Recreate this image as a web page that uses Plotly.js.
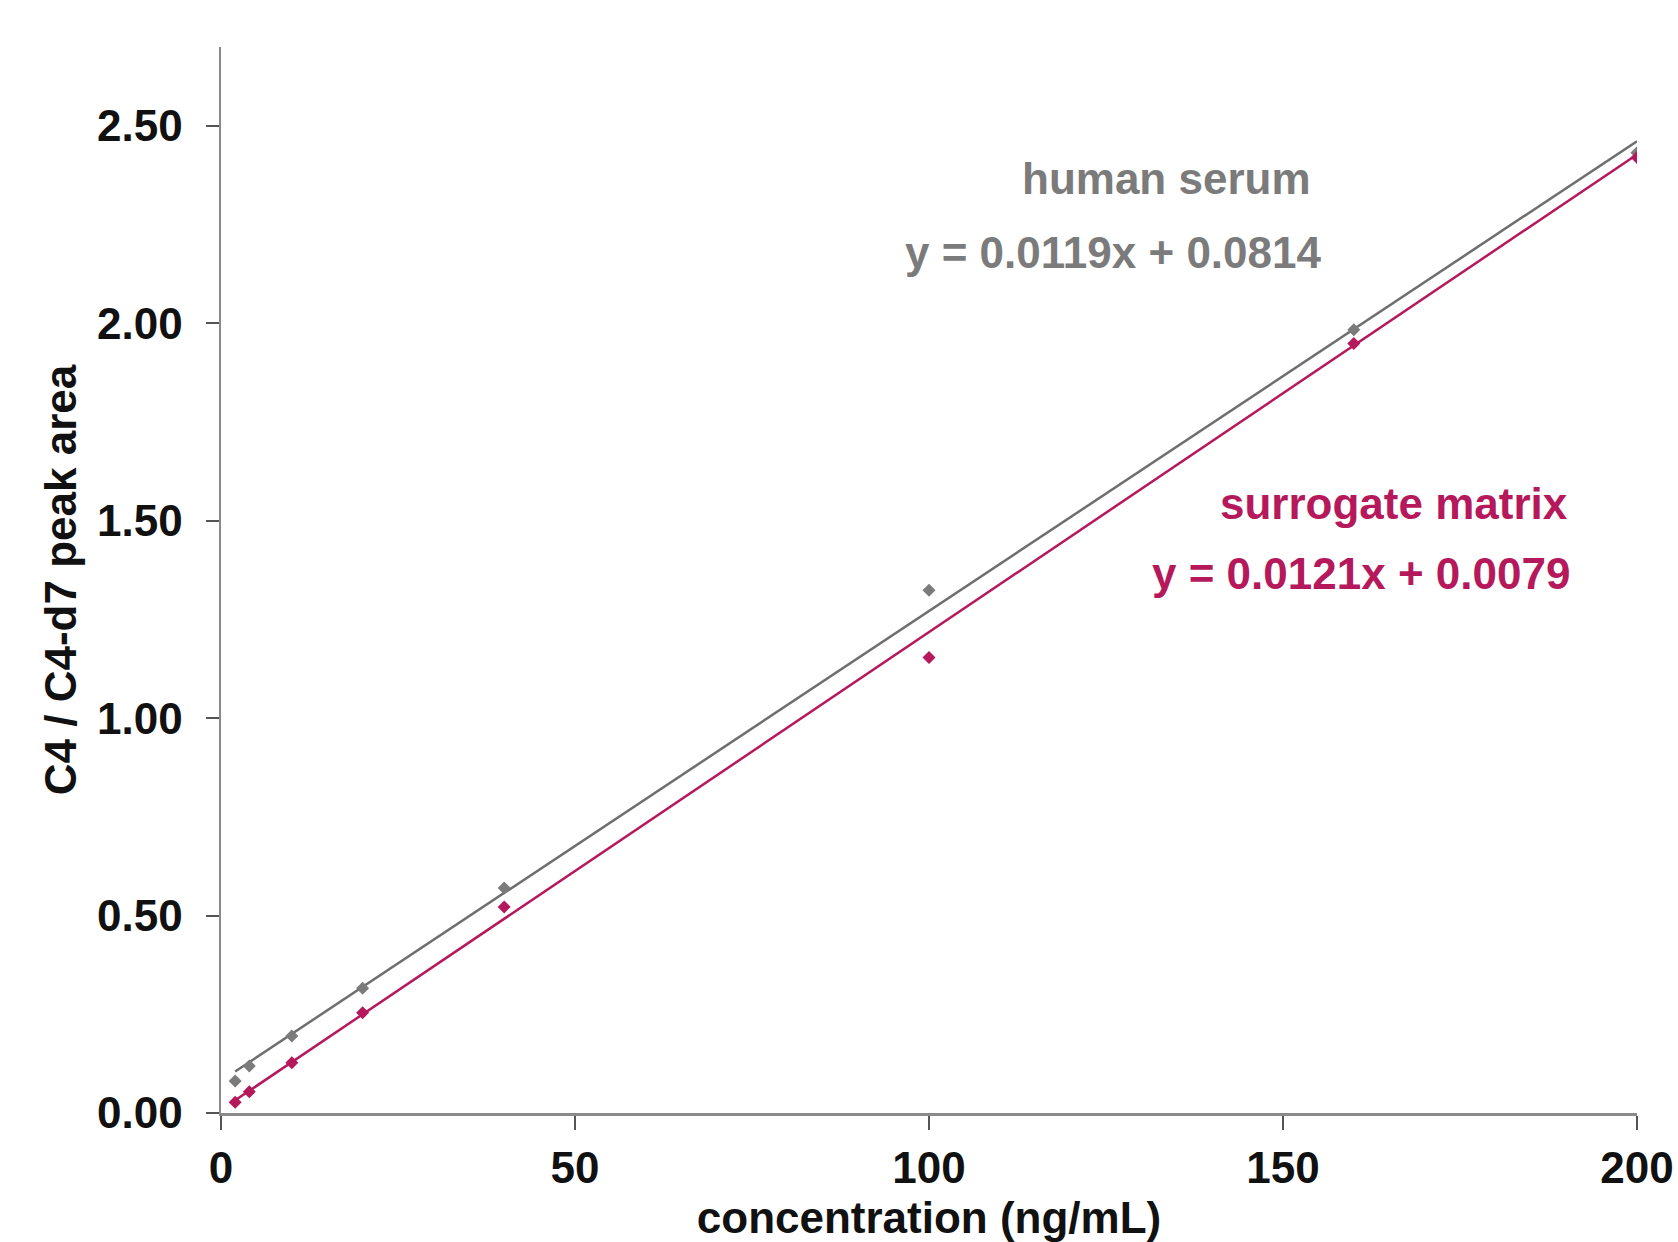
<!DOCTYPE html>
<html>
<head>
<meta charset="utf-8">
<script src="https://cdn.plot.ly/plotly-3.0.1.min.js"></script>
<style>html,body{margin:0;padding:0;background:#fff;}</style>
</head>
<body>
<div id="chart" style="width:1678px;height:1242px;"></div>
<script>
// concentrations (ng/mL)
const concentration = [2, 4, 10, 20, 40, 100, 160, 200];
// C4 / C4-d7 peak area ratios
const humanSerum = [0.081, 0.119, 0.195, 0.316, 0.570, 1.324, 1.984, 2.432];
const surrogateMatrix = [0.027, 0.054, 0.127, 0.254, 0.522, 1.154, 1.949, 2.420];
// regression results
const seriesNames = ["human serum", "surrogate matrix"];
const slopes = [0.0119, 0.0121];
const intercepts = [0.0814, 0.0079];
const equationLabels = ["y = 0.0119x + 0.0814", "y = 0.0121x + 0.0079"];
const xTickVals = [0, 50, 100, 150, 200];
const yTickVals = [0, 0.5, 1.0, 1.5, 2.0, 2.5];

const grayCol = "#7b7b7b";
const redCol = "#b5195b";
const font = "Liberation Sans, Arial, Helvetica, sans-serif";

const xMin = Math.min(...concentration), xMax = Math.max(...concentration);
const fitX = [xMin, xMax];
const fitY = i => fitX.map(x => slopes[i] * x + intercepts[i]);

const traces = [
  {x: fitX, y: fitY(0), mode: "lines", line: {color: "#6e6e6e", width: 2.5}, hoverinfo: "skip"},
  {x: fitX, y: fitY(1), mode: "lines", line: {color: redCol, width: 2.5}, hoverinfo: "skip"},
  {x: concentration, y: humanSerum, mode: "markers", name: seriesNames[0],
   marker: {symbol: "diamond", size: 10, color: grayCol}},
  {x: concentration, y: surrogateMatrix, mode: "markers", name: seriesNames[1],
   marker: {symbol: "diamond", size: 10, color: redCol}}
];

const annFont = (c) => ({family: font, size: 44, color: c, weight: "bold"});

const layout = {
  width: 1678, height: 1242,
  margin: {l: 221, r: 41, t: 47, b: 129},
  paper_bgcolor: "#ffffff", plot_bgcolor: "#ffffff",
  showlegend: false,
  font: {family: font, size: 44, color: "#111111", weight: "bold"},
  xaxis: {
    range: [0, 200], tickvals: xTickVals, ticktext: xTickVals.map(String),
    showgrid: false, zeroline: false, showline: true, linecolor: "#8a8a8a", linewidth: 2.5,
    ticks: "outside", ticklen: 14, tickwidth: 2, tickcolor: "#555555",
    ticklabelstandoff: 1,
    tickfont: {family: font, size: 44, color: "#111111", weight: "bold"},
    title: {text: "concentration (ng/mL)", standoff: 30,
            font: {family: font, size: 44, color: "#111111", weight: "bold"}}
  },
  yaxis: {
    range: [0, 2.7], tickvals: yTickVals, tickformat: ".2f",
    showgrid: false, zeroline: false, showline: true, linecolor: "#8a8a8a", linewidth: 2.5,
    ticks: "outside", ticklen: 13, tickwidth: 2, tickcolor: "#555555",
    ticklabelstandoff: 14,
    tickfont: {family: font, size: 44, color: "#111111", weight: "bold"},
    title: {text: "C4 / C4-d7 peak area", standoff: 7,
            font: {family: font, size: 44, color: "#111111", weight: "bold"}}
  },
  annotations: [
    {x: 154.2, y: 2.366, xref: "x", yref: "y", xanchor: "right", yanchor: "middle",
     text: seriesNames[0], showarrow: false, font: annFont(grayCol)},
    {x: 155.6, y: 2.179, xref: "x", yref: "y", xanchor: "right", yanchor: "middle",
     text: equationLabels[0], showarrow: false, font: annFont(grayCol)},
    {x: 190.5, y: 1.544, xref: "x", yref: "y", xanchor: "right", yanchor: "middle",
     text: seriesNames[1], showarrow: false, font: annFont(redCol)},
    {x: 190.8, y: 1.367, xref: "x", yref: "y", xanchor: "right", yanchor: "middle",
     text: equationLabels[1], showarrow: false, font: annFont(redCol)}
  ]
};

Plotly.newPlot("chart", traces, layout, {displayModeBar: false, staticPlot: true});
</script>
</body>
</html>
